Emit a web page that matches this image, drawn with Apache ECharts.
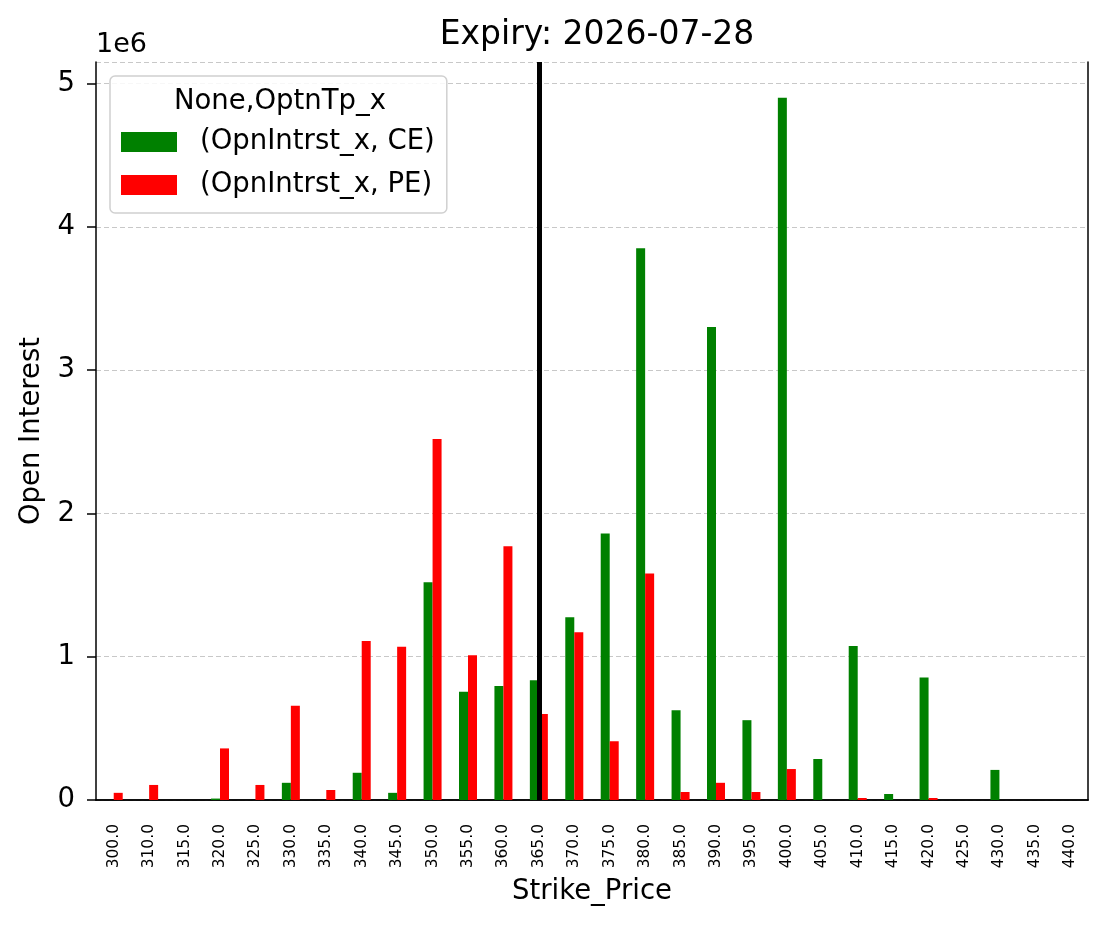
<!DOCTYPE html>
<html>
<head>
<meta charset="utf-8">
<script src="https://cdn.jsdelivr.net/npm/echarts@6/dist/echarts.min.js"></script>
<style>
  html, body { margin: 0; padding: 0; background: #fff; }
  #main { width: 1108px; height: 928px; }
</style>
</head>
<body>
<div id="main"></div>
<script>
// strike prices (categories)
var strikes = ['300.0','310.0','315.0','320.0','325.0','330.0','335.0','340.0','345.0','350.0',
               '355.0','360.0','365.0','370.0','375.0','380.0','385.0','390.0','395.0','400.0',
               '405.0','410.0','415.0','420.0','425.0','430.0','435.0','440.0'];
// open interest, calls
var ceOI = [0, 0, 0, 10000, 0, 120000, 0, 190000, 50000, 1520000,
            755000, 795000, 835000, 1275000, 1860000, 3850000, 627000, 3300000, 557000, 4900000,
            286000, 1075000, 42000, 855000, 0, 210000, 0, 0];
// open interest, puts
var peOI = [50000, 105000, 0, 360000, 105000, 657000, 70000, 1110000, 1070000, 2520000,
            1010000, 1770000, 600000, 1170000, 410000, 1580000, 56000, 120000, 56000, 216000,
            0, 14000, 0, 14000, 0, 0, 0, 0];
var spotStrike = '365.0';
var yTicks = [0, 1, 2, 3, 4, 5];

var myChart = echarts.init(document.getElementById('main'));
var font = 'DejaVu Sans';
option = {
    animation: false,
    backgroundColor: '#fff',
    textStyle: { fontFamily: font },
    title: {
        text: 'Expiry: 2026-07-28',
        left: 592,
        textAlign: 'center',
        top: 14,
        textStyle: { fontFamily: font, fontSize: 33, fontWeight: 'normal', color: '#000' }
    },
    legend: {
        orient: 'vertical',
        left: 110,
        top: 76,
        padding: [52, 12, 14, 11],
        borderColor: '#d0d0d0',
        borderWidth: 1.5,
        borderRadius: 5,
        backgroundColor: 'rgba(255,255,255,0.85)',
        itemWidth: 56,
        itemHeight: 20,
        itemGap: 15,
        textStyle: { fontFamily: font, fontSize: 27.5, lineHeight: 28, color: '#000', padding: [0, 0, 0, 18] },
        data: [
            { name: '(OpnIntrst_x, CE)', icon: 'rect' },
            { name: '(OpnIntrst_x, PE)', icon: 'rect' }
        ]
    },
    graphic: [
        { type: 'text', z: 100, x: 280, y: 102,
          style: { text: 'None,OptnTp_x', font: '27.5px DejaVu Sans', fill: '#000', textAlign: 'center', textVerticalAlign: 'middle' } },
        { type: 'text', z: 100, x: 96, y: 45,
          style: { text: '1e6', font: '27px DejaVu Sans', fill: '#000', textAlign: 'left', textVerticalAlign: 'middle' } }
    ],
    grid: { left: 96, top: 62, right: 20, bottom: 128 },
    xAxis: [
        {
            type: 'category',
            data: strikes,
            name: 'Strike_Price',
            nameLocation: 'middle',
            nameGap: 78,
            nameTextStyle: { fontFamily: font, fontSize: 27.5, color: '#000', verticalAlign: 'top' },
            axisLine: { lineStyle: { color: '#000', width: 1.5 } },
            axisTick: { alignWithLabel: true, length: 9, lineStyle: { color: '#000', width: 1.5 } },
            axisLabel: { rotate: 90, fontSize: 15.5, color: '#000', interval: 0, fontFamily: font, margin: 24 }
        },
        {
            type: 'category',
            position: 'top',
            data: strikes,
            axisLine: { lineStyle: { color: '#000', width: 1.5 } },
            axisTick: { show: false },
            axisLabel: { show: false }
        }
    ],
    yAxis: [
        {
            type: 'value',
            min: 0,
            max: 5150000,
            interval: 1000000,
            name: 'Open Interest',
            nameLocation: 'middle',
            nameGap: 50,
            nameTextStyle: { fontFamily: font, fontSize: 27.5, color: '#000' },
            axisLine: { show: true, lineStyle: { color: '#000', width: 1.5 } },
            axisTick: { show: true, length: 9, lineStyle: { color: '#000', width: 1.5 } },
            axisLabel: {
                fontSize: 27.5, color: '#000', fontFamily: font, showMaxLabel: false, margin: 21,
                formatter: function (v) { return yTicks.indexOf(v / 1e6) >= 0 ? String(v / 1e6) : ''; }
            },
            splitLine: { show: true, lineStyle: { color: '#c8c8c8', type: [5, 3], width: 1 } }
        },
        {
            type: 'value',
            position: 'right',
            min: 0,
            max: 5150000,
            interval: 1000000,
            axisLine: { show: true, lineStyle: { color: '#000', width: 1.5 } },
            axisTick: { show: false },
            axisLabel: { show: false },
            splitLine: { show: false }
        }
    ],
    series: [
        {
            name: '(OpnIntrst_x, CE)',
            type: 'bar',
            data: ceOI,
            barWidth: 9,
            barGap: '0%',
            itemStyle: { color: '#008000' }
        },
        {
            name: '(OpnIntrst_x, PE)',
            type: 'bar',
            data: peOI,
            barWidth: 9,
            barGap: '0%',
            itemStyle: { color: '#ff0000' }
        },
        {
            // vertical marker at the spot strike, centred on the category
            name: 'spot',
            type: 'line',
            data: [],
            z: 10,
            markLine: {
                symbol: 'none',
                silent: true,
                label: { show: false },
                lineStyle: { color: '#000', width: 5, type: 'solid' },
                data: [{ xAxis: spotStrike }]
            }
        }
    ]
};
myChart.setOption(option);
</script>
</body>
</html>
